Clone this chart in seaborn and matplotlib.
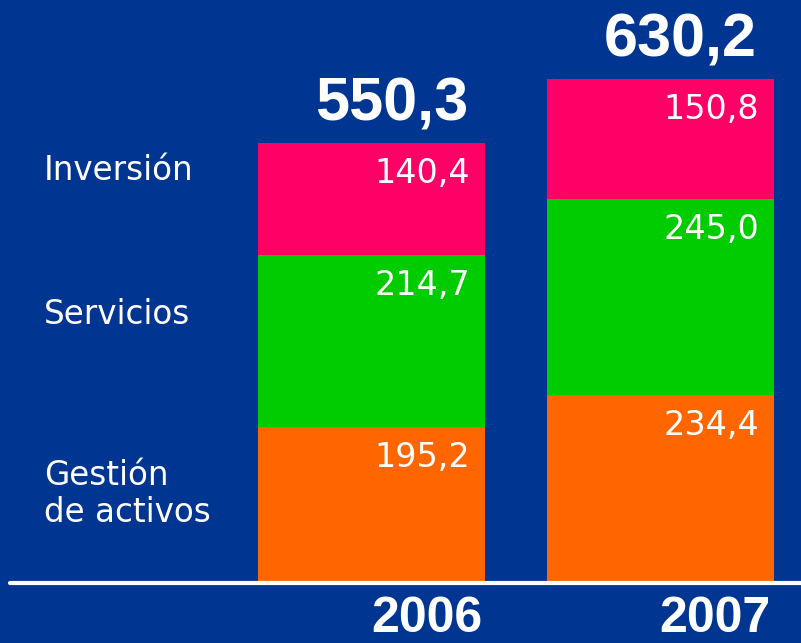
import matplotlib
matplotlib.use('Agg')
import matplotlib.pyplot as plt
import seaborn as sns
import numpy as np

# data
years = ['2006', '2007']
gestion = [195.2, 234.4]
servicios = [214.7, 245.0]
inversion = [140.4, 150.8]
totals = [550.3, 630.2]
segment_names = ['de activos', 'Gestión', 'Servicios', 'Inversión']

bg = '#003591'
colors = ['#FF6600', '#00CC00', '#FF0066']

sns.set_theme(style='white')
plt.rcParams['font.family'] = ['Liberation Sans', 'DejaVu Sans']
light_font = ['DejaVu Sans']

fig = plt.figure(figsize=(8.01, 6.43), dpi=100, facecolor=bg)
ax = fig.add_axes([0, 0, 1, 1])
ax.set_facecolor(bg)

# pixel mapping: baseline at y=583px, 0.8 px per unit
px = 0.8
bw = 0.785

series = [gestion, servicios, inversion]
bottom = np.zeros(len(years))
for vals, col in zip(series, colors):
    sns.barplot(x=years, y=vals, bottom=bottom, color=col, saturation=1,
                width=bw, ax=ax, linewidth=0)
    tops = bottom + np.array(vals)
    for i, v in enumerate(vals):
        ax.text(i + bw / 2 - 15 / 289, tops[i] - 50, f'{v:.1f}'.replace('.', ','),
                ha='right', va='baseline', color='white', fontsize=24,
                family=light_font)
    bottom = tops

ax.set_ylim(-(643 - 583) / px, 583 / px)
ax.set_xlim((0 - 371.5) / 289, (801 - 371.5) / 289)

for i, t in enumerate(totals):
    ax.text(i + bw / 2 - 17 / 289, t + 28, f'{t:.1f}'.replace('.', ','),
            ha='right', va='baseline', color='white', fontsize=44, fontweight='bold')

for i, y in enumerate(years):
    ax.text(i + bw / 2 - 3 / 289, -(643 - 583) / px + 14, y,
            ha='right', va='baseline', color='white', fontsize=36, fontweight='bold')

# left labels
label_y = [(583 - 522) / px, (583 - 485) / px, (583 - 324) / px, (583 - 180) / px]
for name, y in zip(segment_names, label_y):
    ax.text((44 - 371.5) / 289, y, name, ha='left', va='baseline',
            color='white', fontsize=23.5, family=light_font)

ax.axhline(0, xmin=10 / 801, xmax=1, color='white', linewidth=3)

ax.set_xticks([])
ax.set_yticks([])
ax.set_xlabel('')
ax.set_ylabel('')
for s in ax.spines.values():
    s.set_visible(False)

fig.savefig('out.png', dpi=100, facecolor=bg)
